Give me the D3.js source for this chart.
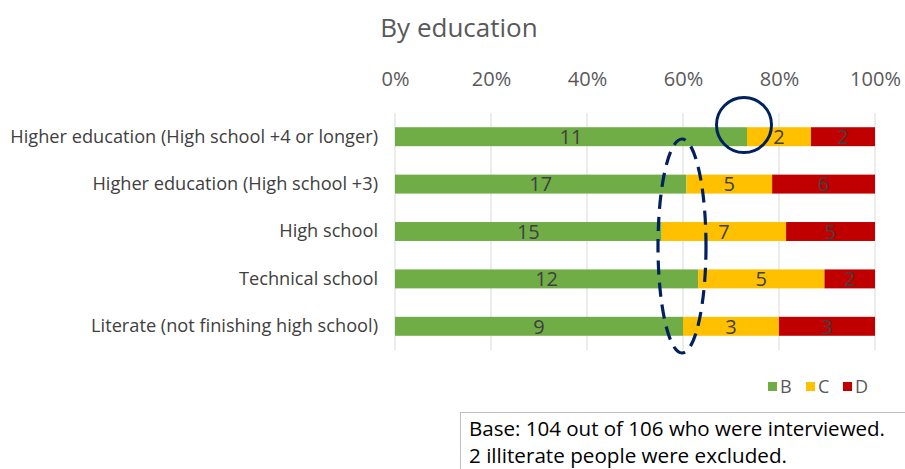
<!DOCTYPE html>
<html><head><meta charset="utf-8">
<script src="https://cdn.jsdelivr.net/npm/d3@7"></script>
<style>body{margin:0;background:#fff}svg{display:block;font-family:"Open Sans",sans-serif}</style>
</head><body>
<svg id="c" width="905" height="469"></svg>
<script>
const categories = ["Higher education (High school +4 or longer)","Higher education (High school +3)","High school","Technical school","Literate (not finishing high school)"];
const seriesNames = ["B","C","D"];
const valuesB = [11,17,15,12,9];
const valuesC = [2,5,7,5,3];
const valuesD = [2,6,5,2,3];
const colors = ["#70ad47","#ffc000","#c00000"];
const tickValues = [0,0.2,0.4,0.6,0.8,1];

const svg = d3.select("#c");
const x = d3.scaleLinear().domain([0,1]).range([395,875]);
const y = d3.scaleBand().domain(categories).range([113,350]).paddingInner(0.6).paddingOuter(0.3);

const rows = categories.map((c,i)=>({cat:c,B:valuesB[i],C:valuesC[i],D:valuesD[i]}));
const stacked = d3.stack().keys(seriesNames).offset(d3.stackOffsetExpand)(rows);

// gridlines
svg.append("g").selectAll("line").data(tickValues).join("line")
  .attr("x1",d=>x(d)).attr("x2",d=>x(d)).attr("y1",113).attr("y2",350)
  .attr("stroke","#d9d9d9").attr("stroke-width",1);

// top axis
const ax = svg.append("g").attr("transform","translate(0,86)")
  .call(d3.axisTop(x).tickValues(tickValues).tickFormat(d3.format(".0%")).tickSize(0).tickPadding(0));
ax.select(".domain").remove();
ax.selectAll("text").attr("font-size",20).attr("fill","#595959").attr("font-family","Open Sans");

// title
svg.append("text").attr("x",459).attr("y",37).attr("text-anchor","middle")
  .attr("font-size",26).attr("fill","#595959").text("By education");

// category labels
const yax = svg.append("g").attr("transform","translate(378,0)")
  .call(d3.axisLeft(y).tickSize(0).tickPadding(0));
yax.select(".domain").remove();
yax.selectAll("text").attr("font-size",18.2).attr("fill","#404040").attr("font-family","Open Sans");

// bars
const g = svg.append("g");
stacked.forEach((s,si)=>{
  const gg = g.append("g");
  gg.selectAll("rect").data(s).join("rect")
    .attr("x",d=>x(d[0])).attr("width",d=>x(d[1])-x(d[0]))
    .attr("y",d=>y(d.data.cat)).attr("height",y.bandwidth())
    .attr("fill",colors[si]);
  gg.selectAll("text").data(s).join("text")
    .attr("x",d=>(x(d[0])+x(d[1]))/2).attr("y",d=>y(d.data.cat)+y.bandwidth()/2)
    .attr("dy","0.36em").attr("text-anchor","middle")
    .attr("font-size",20).attr("fill","#404040")
    .text(d=>d.data[s.key]);
});

// annotations
svg.append("circle").attr("cx",744).attr("cy",125).attr("r",27.5)
  .attr("fill","none").attr("stroke","#002060").attr("stroke-width",3);
svg.append("ellipse").attr("cx",682).attr("cy",246).attr("rx",24).attr("ry",107)
  .attr("fill","none").attr("stroke","#002060").attr("stroke-width",3.2).attr("stroke-dasharray","14,8");

// legend
const lg = svg.append("g");
const lx = [768,806,843];
seriesNames.forEach((n,i)=>{
  lg.append("rect").attr("x",lx[i]).attr("y",382).attr("width",9).attr("height",9).attr("fill",colors[i]);
  lg.append("text").attr("x",lx[i]+12).attr("y",387).attr("dy","0.36em").attr("font-size",18).attr("fill","#595959").text(n);
});

// note box
svg.append("rect").attr("x",460.5).attr("y",412.5).attr("width",460).attr("height",70)
  .attr("fill","#fff").attr("stroke","#bfbfbf").attr("stroke-width",1);
svg.append("text").attr("x",469).attr("y",436).attr("font-size",19.5).attr("fill","#000")
  .attr("textLength",416).attr("lengthAdjust","spacingAndGlyphs").text("Base: 104 out of 106 who were interviewed.");
svg.append("text").attr("x",469).attr("y",463).attr("font-size",19.5).attr("fill","#000")
  .attr("textLength",318).attr("lengthAdjust","spacingAndGlyphs").text("2 illiterate people were excluded.");
</script>
</body></html>
